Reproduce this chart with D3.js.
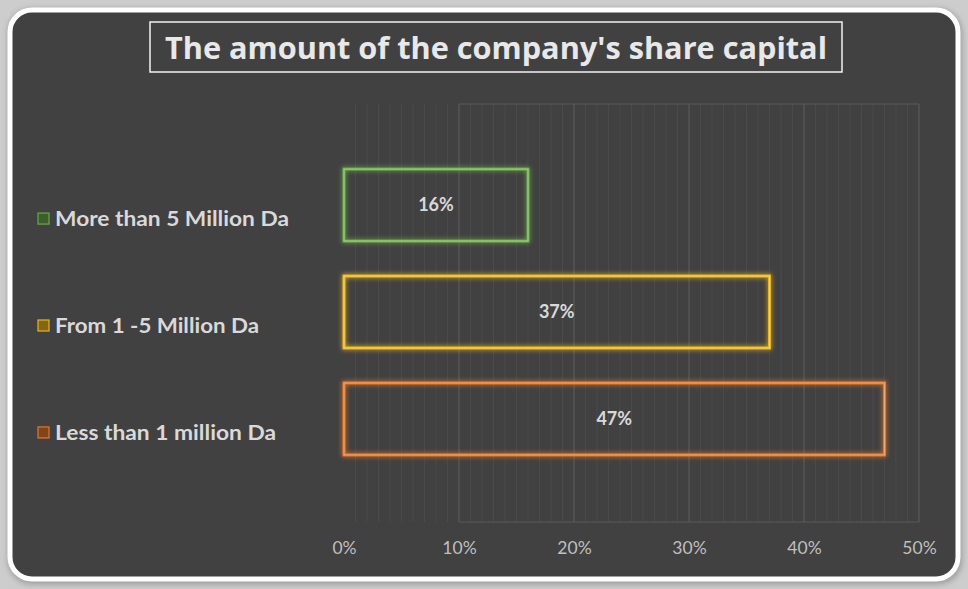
<!DOCTYPE html>
<html>
<head>
<meta charset="utf-8">
<script src="https://cdn.jsdelivr.net/npm/d3@7"></script>
<style>
  html, body { margin: 0; padding: 0; background: #cfcfcf; }
  svg { display: block; }
</style>
</head>
<body>
<svg id="chart" width="968" height="589"></svg>
<script>
// Chart data
const categories = ["More than 5 Million Da", "From 1 -5 Million Da", "Less than 1 million Da"];
const values = [16, 37, 47];
const colors = ["#6aa84a", "#e6b422", "#e5782c"];
const innerColors = ["#a6d48a", "#f7d66a", "#f4a66c"];
const tickValues = [0, 10, 20, 30, 40, 50];
const tickLabels = ["0%", "10%", "20%", "30%", "40%", "50%"];
const title = "The amount of the company's share capital";

const W = 968, H = 589;
const svg = d3.select("#chart");
const defs = svg.append("defs");

// Soft glow around the bar outlines
colors.forEach((c, i) => {
  const f = defs.append("filter").attr("id", "glow" + i)
    .attr("x", "-10%").attr("y", "-30%").attr("width", "120%").attr("height", "160%");
  f.append("feGaussianBlur").attr("in", "SourceGraphic").attr("stdDeviation", 2.5).attr("result", "b");
  const m = f.append("feMerge");
  m.append("feMergeNode").attr("in", "b");
  m.append("feMergeNode").attr("in", "SourceGraphic");
});
const outer = defs.append("filter").attr("id", "frameShadow")
  .attr("x", "-5%").attr("y", "-5%").attr("width", "110%").attr("height", "110%");
outer.append("feGaussianBlur").attr("stdDeviation", 3);

// Background and framed card
svg.append("rect").attr("x", 0).attr("y", 0).attr("width", W).attr("height", H).attr("fill", "#cdcdcd");
svg.append("rect").attr("x", 8).attr("y", 9).attr("width", W - 14).attr("height", H - 14)
  .attr("rx", 24).attr("fill", "#9a9a9a").attr("filter", "url(#frameShadow)");
svg.append("rect").attr("x", 10).attr("y", 10).attr("width", W - 20).attr("height", H - 20)
  .attr("rx", 22).attr("fill", "#414141").attr("stroke", "#ffffff").attr("stroke-width", 5);

// Scales
const x = d3.scaleLinear().domain([0, 50]).range([344, 919]);
const y = d3.scaleBand().domain(categories).range([137, 487]).paddingInner(0.327).paddingOuter(0.3);
const plotTop = 104, plotBottom = 522;

// Minor gridlines
const g = svg.append("g");
g.selectAll("line.minor").data(d3.range(1, 50).filter(v => v % 10 !== 0)).join("line")
  .attr("class", "minor")
  .attr("x1", d => x(d)).attr("x2", d => x(d))
  .attr("y1", plotTop).attr("y2", plotBottom)
  .attr("stroke", "#4a4a4a").attr("stroke-width", 1);

// Major gridlines
g.selectAll("line.major").data(tickValues.slice(1)).join("line")
  .attr("class", "major")
  .attr("x1", d => x(d)).attr("x2", d => x(d))
  .attr("y1", plotTop).attr("y2", plotBottom)
  .attr("stroke", "#5e5e5e").attr("stroke-width", 1);
[plotTop, plotBottom].forEach(yy => {
  g.append("line").attr("x1", x(10)).attr("x2", x(50)).attr("y1", yy).attr("y2", yy)
    .attr("stroke", "#5a5a5a").attr("stroke-width", 1);
});

// Bars
svg.append("g").selectAll("rect").data(categories).join("rect")
  .attr("x", x(0))
  .attr("y", d => y(d))
  .attr("width", (d, i) => x(values[i]) - x(0))
  .attr("height", y.bandwidth())
  .attr("fill", "none")
  .attr("stroke", (d, i) => colors[i])
  .attr("stroke-width", 3)
  .attr("filter", (d, i) => `url(#glow${i})`);
svg.append("g").selectAll("rect").data(categories).join("rect")
  .attr("x", x(0))
  .attr("y", d => y(d))
  .attr("width", (d, i) => x(values[i]) - x(0))
  .attr("height", y.bandwidth())
  .attr("fill", "none")
  .attr("stroke", (d, i) => innerColors[i])
  .attr("stroke-width", 1);

// Value labels
svg.append("g").selectAll("text").data(categories).join("text")
  .attr("x", (d, i) => (x(0) + x(values[i])) / 2)
  .attr("y", d => y(d) + y.bandwidth() / 2)
  .attr("dy", "0.35em")
  .attr("text-anchor", "middle")
  .attr("fill", "#d9d9d9")
  .attr("font-family", "Lato, 'Open Sans', sans-serif")
  .attr("font-weight", "bold")
  .attr("font-size", 18)
  .text((d, i) => values[i] + "%");

// Category labels with small colour keys
const legendWidths = [234, 204, 221];
const leg = svg.append("g").selectAll("g").data(categories).join("g")
  .attr("transform", d => `translate(38, ${y(d) + y.bandwidth() / 2 + 14})`);
leg.append("rect").attr("x", 0).attr("y", -6).attr("width", 11).attr("height", 11)
  .attr("fill", (d, i) => d3.color(colors[i]).darker(1.6))
  .attr("stroke", (d, i) => colors[i]).attr("stroke-width", 1.2);
leg.append("text").attr("x", 17).attr("y", 0).attr("dy", "0.36em")
  .attr("fill", "#d9d9d9")
  .attr("font-family", "Lato, 'Open Sans', sans-serif")
  .attr("font-weight", "bold")
  .attr("font-size", 20)
  .attr("textLength", (d, i) => legendWidths[i])
  .attr("lengthAdjust", "spacingAndGlyphs")
  .text(d => d);

// X axis labels
const axis = d3.axisBottom(x).tickValues(tickValues).tickFormat((d, i) => tickLabels[i]).tickSize(0).tickPadding(0);
const ax = svg.append("g").attr("transform", `translate(0, 542)`).call(axis);
ax.select(".domain").remove();
ax.selectAll("text")
  .attr("fill", "#bfbfbf")
  .attr("font-family", "Lato, 'Open Sans', sans-serif")
  .attr("font-size", 17.5)
  .attr("dy", "0.71em");

// Title in a bordered box
svg.append("rect").attr("x", 150).attr("y", 22).attr("width", 692).attr("height", 50)
  .attr("fill", "none").attr("stroke", "#f2f2f2").attr("stroke-width", 1.5);
svg.append("text").attr("x", 496).attr("y", 48).attr("dy", "0.35em")
  .attr("text-anchor", "middle")
  .attr("fill", "#e8e8e8")
  .attr("font-family", "'Open Sans', Lato, sans-serif")
  .attr("font-weight", "bold")
  .attr("font-size", 31)
  .attr("textLength", 662)
  .attr("lengthAdjust", "spacingAndGlyphs")
  .text(title);
</script>
</body>
</html>
